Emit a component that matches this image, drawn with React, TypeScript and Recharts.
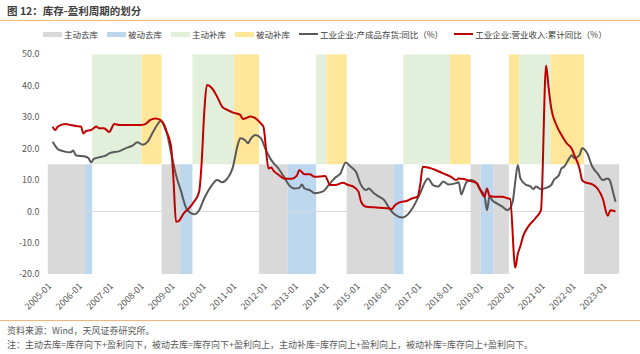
import { ComposedChart, Line, XAxis, YAxis, ReferenceArea, ReferenceLine } from "recharts"

// 工业企业:产成品存货:同比（%）
const inventoryYoY: [string, number][] = [
  ["2005-03", 22.2], ["2005-05", 19.9], ["2005-07", 19.2], ["2005-10", 18.8], ["2005-11", 19.4], ["2005-12", 17.9],
  ["2006-04", 17.4], ["2006-05", 16.9], ["2006-06", 15.6], ["2006-07", 16.7], ["2006-10", 17.4], ["2006-12", 17.9],
  ["2007-01", 18.5], ["2007-05", 19.2], ["2007-08", 20.3], ["2007-10", 20.9], ["2007-12", 22.0],
  ["2008-02", 21.2], ["2008-04", 22.2], ["2008-06", 25.2], ["2008-08", 27.9], ["2008-09", 28.8], ["2008-11", 26.4],
  ["2009-01", 19.0], ["2009-03", 11.6], ["2009-05", 6.3], ["2009-07", 1.0], ["2009-09", -0.6], ["2009-10", -0.9], ["2009-12", 0.4],
  ["2010-02", 4.2], ["2010-05", 8.4], ["2010-07", 10.0], ["2010-09", 9.3], ["2010-11", 10.5],
  ["2011-01", 13.7], ["2011-03", 21.1], ["2011-04", 23.3], ["2011-06", 22.6], ["2011-07", 21.7], ["2011-08", 23.0], ["2011-10", 24.3], ["2011-12", 23.3],
  ["2012-02", 19.5], ["2012-04", 16.4], ["2012-07", 13.5], ["2012-09", 11.0], ["2012-11", 8.4],
  ["2013-01", 7.3], ["2013-03", 7.5], ["2013-04", 8.6], ["2013-05", 7.3], ["2013-07", 6.8], ["2013-09", 5.8], ["2013-12", 6.3],
  ["2014-03", 9.0], ["2014-05", 10.8], ["2014-07", 12.1], ["2014-09", 15.6], ["2014-11", 14.2],
  ["2015-01", 12.6], ["2015-03", 8.4], ["2015-05", 6.8], ["2015-06", 7.3], ["2015-08", 5.8], ["2015-10", 4.7], ["2015-12", 3.6],
  ["2016-02", 1.0], ["2016-04", -0.9], ["2016-07", -1.9], ["2016-09", -1.1], ["2016-11", 1.0],
  ["2017-02", 5.8], ["2017-04", 9.5], ["2017-05", 10.5], ["2017-07", 8.4], ["2017-09", 7.9], ["2017-11", 9.5],
  ["2018-01", 8.6], ["2018-04", 9.0], ["2018-05", 9.3], ["2018-06", 5.4], ["2018-07", 7.3], ["2018-08", 9.3], ["2018-10", 10.0], ["2018-12", 9.0],
  ["2019-01", 7.3], ["2019-03", 5.1], ["2019-04", 0.4], ["2019-05", 4.9], ["2019-06", 3.6], ["2019-08", 2.5], ["2019-10", 1.5], ["2019-12", 0.4],
  ["2020-02", 3.1], ["2020-03", 9.5], ["2020-04", 14.8], ["2020-05", 10.5], ["2020-07", 8.6], ["2020-09", 7.9], ["2020-10", 7.1], ["2020-11", 7.9],
  ["2021-01", 7.1], ["2021-03", 7.5], ["2021-05", 8.4], ["2021-06", 10.0], ["2021-08", 11.6], ["2021-09", 13.7], ["2021-10", 14.2], ["2021-12", 16.9],
  ["2022-01", 17.9], ["2022-02", 16.9], ["2022-04", 17.9], ["2022-05", 20.1], ["2022-07", 18.5], ["2022-09", 14.2], ["2022-11", 12.1],
  ["2023-01", 10.0], ["2023-03", 10.5], ["2023-04", 9.5], ["2023-05", 6.3], ["2023-06", 3.1],
]

// 工业企业:营业收入:累计同比（%）
const revenueYoY: [string, number][] = [
  ["2005-03", 27.0], ["2005-04", 25.9], ["2005-05", 27.0], ["2005-08", 27.8], ["2005-10", 27.5], ["2005-12", 27.2],
  ["2006-02", 27.0], ["2006-03", 24.8], ["2006-04", 25.6], ["2006-06", 25.9], ["2006-08", 27.0], ["2006-09", 26.5], ["2006-11", 26.5],
  ["2007-01", 25.3], ["2007-03", 27.8], ["2007-05", 27.5], ["2007-08", 27.5],
  ["2008-01", 27.5], ["2008-03", 27.8], ["2008-05", 29.1], ["2008-07", 29.6], ["2008-09", 29.1], ["2008-10", 28.0], ["2008-11", 25.9],
  ["2009-01", 21.1], ["2009-02", 10.5], ["2009-03", -3.3], ["2009-04", -3.1], ["2009-06", -0.6], ["2009-08", 1.0], ["2009-10", 3.1], ["2009-12", 6.3],
  ["2010-01", 15.8], ["2010-02", 31.7], ["2010-03", 40.2], ["2010-05", 39.2], ["2010-07", 36.5], ["2010-09", 33.3], ["2010-11", 32.3],
  ["2011-01", 31.5], ["2011-04", 30.7], ["2011-05", 29.4], ["2011-08", 30.2], ["2011-10", 29.6], ["2011-12", 28.0],
  ["2012-01", 27.0], ["2012-03", 13.7], ["2012-04", 14.0], ["2012-05", 12.9], ["2012-07", 11.6], ["2012-09", 10.5], ["2012-12", 10.4],
  ["2013-02", 11.4], ["2013-03", 13.2], ["2013-05", 11.8], ["2013-07", 11.8], ["2013-09", 11.0],
  ["2014-01", 11.3], ["2014-03", 8.4], ["2014-05", 8.4], ["2014-08", 9.1], ["2014-10", 8.4], ["2014-12", 7.9],
  ["2015-02", 6.3], ["2015-03", 3.1], ["2015-05", 1.5], ["2015-08", 1.3], ["2015-10", 1.2],
  ["2016-01", 1.0], ["2016-03", 0.8], ["2016-04", 1.8], ["2016-06", 2.9], ["2016-09", 3.4], ["2016-11", 4.2],
  ["2017-01", 4.7], ["2017-02", 8.4], ["2017-03", 14.2], ["2017-05", 14.0], ["2017-08", 13.2], ["2017-11", 12.1],
  ["2018-02", 11.0], ["2018-04", 10.0], ["2018-05", 10.5], ["2018-07", 10.3], ["2018-09", 9.8], ["2018-12", 9.0],
  ["2019-01", 7.6], ["2019-03", 4.7], ["2019-04", 7.3], ["2019-05", 4.9], ["2019-07", 4.7], ["2019-10", 4.7], ["2019-12", 4.2],
  ["2020-01", 4.0], ["2020-03", -17.9], ["2020-04", -13.5], ["2020-05", -11.0], ["2020-06", -8.0], ["2020-08", -4.9], ["2020-11", -2.0],
  ["2021-01", 0.4], ["2021-03", 46.4], ["2021-04", 39.2], ["2021-05", 32.8], ["2021-07", 27.5], ["2021-09", 24.3], ["2021-11", 21.7],
  ["2022-01", 19.9], ["2022-02", 17.9], ["2022-04", 13.7], ["2022-05", 10.0], ["2022-06", 9.3], ["2022-09", 8.6], ["2022-11", 7.3],
  ["2023-01", 4.2], ["2023-03", -1.4], ["2023-04", 0.4], ["2023-06", 0.0],
]

// 周期阶段: [阶段, 起, 止]（年份小数）
const phases: [string, number, number][] = [
  ["主动去库", 2005.0, 2006.22], ["被动去库", 2006.22, 2006.45], ["主动补库", 2006.45, 2008.05], ["被动补库", 2008.05, 2008.7],
  ["主动去库", 2008.7, 2009.3], ["被动去库", 2009.3, 2009.7], ["主动补库", 2009.7, 2011.05], ["被动补库", 2011.05, 2011.86],
  ["主动去库", 2011.86, 2012.79], ["被动去库", 2012.79, 2013.71], ["主动补库", 2013.71, 2014.05], ["被动补库", 2014.05, 2014.7],
  ["主动去库", 2014.7, 2016.21], ["被动去库", 2016.21, 2016.54], ["主动补库", 2016.54, 2018.05], ["被动补库", 2018.05, 2018.72],
  ["主动去库", 2018.72, 2019.05], ["被动去库", 2019.05, 2019.45], ["主动去库", 2019.45, 2019.96], ["被动补库", 2019.96, 2020.3],
  ["主动补库", 2020.3, 2021.32], ["被动补库", 2021.32, 2022.4], ["主动去库", 2022.4, 2023.54],
]

const phaseNames = ["主动去库", "被动去库", "主动补库", "被动补库"]
const phaseColors: Record<string, string> = {
  主动去库: "#d9d9d9",
  被动去库: "#bdd7ee",
  主动补库: "#e2efda",
  被动补库: "#ffe699",
}

const yearTicks = [2005, 2006, 2007, 2008, 2009, 2010, 2011, 2012, 2013, 2014, 2015, 2016, 2017, 2018, 2019, 2020, 2021, 2022, 2023]
const valueTicks = [-20, -10, 0, 10, 20, 30, 40, 50]

const seriesNames = ["工业企业:产成品存货:同比（%）", "工业企业:营业收入:累计同比（%）"]
const seriesColors = ["#595959", "#c00000"]

const toYear = (m: string) => {
  const [y, mo] = m.split("-").map(Number)
  return y + (mo - 1) / 12
}
const toRows = (list: [string, number][]) => list.map(([m, v]) => ({ t: toYear(m), v }))

const font = '"Noto Sans CJK SC", "Noto Sans", sans-serif'

export default function App() {
  return (
    <div style={{ position: "relative", width: 640, height: 354, background: "#fff", fontFamily: font, overflow: "hidden" }}>
      <style>{"body{margin:0}"}</style>
      <div style={{ position: "absolute", left: 7, top: 3, fontSize: 10.5, fontWeight: 700, color: "#404040", lineHeight: "15px" }}>
        图 12：库存-盈利周期的划分
      </div>
      <div style={{ position: "absolute", left: 0, width: 640, top: 20, height: 1, background: "#f5b27a" }} />

      <div style={{ position: "absolute", left: 43, top: 27, height: 14, display: "flex", alignItems: "center", fontSize: 8.5, color: "#404040" }}>
        {phaseNames.map((p) => (
          <div key={p} style={{ display: "flex", alignItems: "center", marginRight: 9 }}>
            <span style={{ width: 19, height: 5, background: phaseColors[p], marginRight: 2 }} />
            <span>{p}</span>
          </div>
        ))}
        {seriesNames.map((s, i) => (
          <div key={s} style={{ display: "flex", alignItems: "center", marginRight: 11 }}>
            <span style={{ width: 19, height: 2, background: seriesColors[i], marginRight: 2 }} />
            <span>{s}</span>
          </div>
        ))}
      </div>

      <div style={{ position: "absolute", left: 0, top: 0 }}>
        <ComposedChart width={640} height={320} margin={{ top: 54.3, right: 20.7, left: 7.5, bottom: 0.7 }}>
          <XAxis
            type="number"
            dataKey="t"
            domain={[2005, 2023.54]}
            allowDataOverflow
            ticks={yearTicks}
            interval={0}
            tickFormatter={(y) => `${y}-01`}
            angle={-45}
            textAnchor="end"
            height={45}
            axisLine={false}
            tickLine={false}
            tick={{ fontSize: 9, fill: "#595959", fontFamily: font }}
          />
          <YAxis
            type="number"
            domain={[-20, 50]}
            allowDataOverflow
            ticks={valueTicks}
            interval={0}
            tickFormatter={(v) => Number(v).toFixed(1)}
            width={40}
            axisLine={false}
            tickLine={false}
            tick={{ fontSize: 9, fill: "#595959", fontFamily: font }}
          />
          {phases.map(([p, from, to], i) => {
            const top = p === "主动补库" || p === "被动补库"
            return (
              <ReferenceArea
                key={i}
                x1={from}
                x2={to}
                y1={top ? 15 : -20}
                y2={top ? 50 : 15}
                fill={phaseColors[p]}
                fillOpacity={1}
                stroke="none"
                ifOverflow="hidden"
              />
            )
          })}
          <ReferenceLine y={0} stroke="#d9d9d9" strokeWidth={1} />
          <Line
            data={toRows(inventoryYoY)}
            dataKey="v"
            type="monotone"
            stroke={seriesColors[0]}
            strokeWidth={2}
            dot={false}
            isAnimationActive={false}
          />
          <Line
            data={toRows(revenueYoY)}
            dataKey="v"
            type="monotone"
            stroke={seriesColors[1]}
            strokeWidth={2}
            dot={false}
            isAnimationActive={false}
          />
        </ComposedChart>
      </div>

      <div style={{ position: "absolute", left: 0, width: 640, top: 320, height: 1, background: "#f5b27a" }} />
      <div style={{ position: "absolute", left: 7, top: 324, fontSize: 9, color: "#595959", lineHeight: "13px" }}>
        资料来源：Wind，天风证券研究所。
      </div>
      <div style={{ position: "absolute", left: 7, top: 338, fontSize: 9, color: "#595959", lineHeight: "13px" }}>
        注：主动去库=库存向下+盈利向下，被动去库=库存向下+盈利向上，主动补库=库存向上+盈利向上，被动补库=库存向上+盈利向下。
      </div>
    </div>
  )
}
